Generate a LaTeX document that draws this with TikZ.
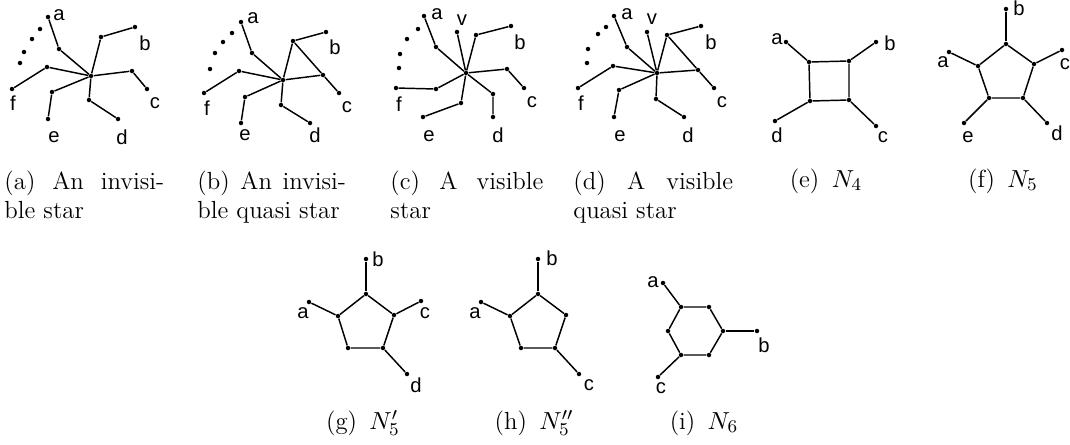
\documentclass[tikz,border=0pt]{standalone}
\usepackage{fontspec}
\usepackage{amsmath}
\newfontfamily\lblfont{Liberation Sans}
\usetikzlibrary{positioning}
\tikzset{
  vtx/.style={circle,fill=black,inner sep=0pt,minimum size=2pt},
  link/.style={draw=black,line width=0.65pt},
  lbl/.style={font=\lblfont\fontsize{9}{10}\selectfont,inner sep=0pt},
  subcap/.style={font=\fontsize{11}{13}\selectfont,inner sep=0pt,
                 align=left,anchor=north west},
  subcapc/.style={font=\fontsize{11}{13}\selectfont,inner sep=0pt}
}
\begin{document}
\begin{tikzpicture}[x=0.4444pt,y=-0.4444pt]
    \path[use as bounding box] (0,0) rectangle (1070,444);

    % (a) invisible star
    \node[vtx] (sa-c) at (91,76) {};
    \node[vtx] (sa-ai) at (59,49) {};  \node[vtx] (sa-al) at (48,17) {};
    \node[vtx] (sa-bi) at (101,37) {}; \node[vtx] (sa-bl) at (135,27) {};
    \node[vtx] (sa-ci) at (132,71) {}; \node[vtx] (sa-cl) at (147,89) {};
    \node[vtx] (sa-di) at (89,100) {}; \node[vtx] (sa-dl) at (118,119) {};
    \node[vtx] (sa-ei) at (52,92) {};  \node[vtx] (sa-el) at (48,119) {};
    \node[vtx] (sa-fi) at (47,67) {};  \node[vtx] (sa-fl) at (12,89) {};
    \draw[link] (sa-al) -- (sa-ai) -- (sa-c);
    \draw[link] (sa-bl) -- (sa-bi) -- (sa-c);
    \draw[link] (sa-cl) -- (sa-ci) -- (sa-c);
    \draw[link] (sa-dl) -- (sa-di) -- (sa-c);
    \draw[link] (sa-el) -- (sa-ei) -- (sa-c);
    \draw[link] (sa-fl) -- (sa-fi) -- (sa-c);
    \foreach \p in {(40,29),(32,39),(24,52),(20,63)}
      \fill \p circle (1pt);
    \node[lbl] (sa-la) at (59,15) {a};
    \node[lbl] (sa-lb) at (145,43) {b};
    \node[lbl] (sa-lc) at (155,103) {c};
    \node[lbl] (sa-ld) at (122,137) {d};
    \node[lbl] (sa-le) at (54,137) {e};
    \node[lbl] (sa-lf) at (13,103) {f};

    % (b) invisible quasi star
    \node[vtx] (sb-c) at (283,80) {};
    \node[vtx] (sb-ai) at (252,53) {};  \node[vtx] (sb-al) at (241,22) {};
    \node[vtx] (sb-bi) at (293,41) {};  \node[vtx] (sb-bl) at (326,32) {};
    \node[vtx] (sb-ci) at (323,75) {};  \node[vtx] (sb-cl) at (339,93) {};
    \node[vtx] (sb-di) at (281,105) {}; \node[vtx] (sb-dl) at (310,123) {};
    \node[vtx] (sb-ei) at (245,97) {};  \node[vtx] (sb-el) at (241,123) {};
    \node[vtx] (sb-fi) at (239,71) {};  \node[vtx] (sb-fl) at (204,93) {};
    \draw[link] (sb-al) -- (sb-ai) -- (sb-c);
    \draw[link] (sb-bl) -- (sb-bi) -- (sb-c);
    \draw[link] (sb-cl) -- (sb-ci) -- (sb-c);
    \draw[link] (sb-bi) -- (sb-ci);
    \draw[link] (sb-dl) -- (sb-di) -- (sb-c);
    \draw[link] (sb-el) -- (sb-ei) -- (sb-c);
    \draw[link] (sb-fl) -- (sb-fi) -- (sb-c);
    \foreach \p in {(232,33),(223,42),(215,53),(210,69)}
      \fill \p circle (1pt);
    \node[lbl] (sb-la) at (253,18) {a};
    \node[lbl] (sb-lb) at (335,47) {b};
    \node[lbl] (sb-lc) at (347,107) {c};
    \node[lbl] (sb-ld) at (315,135) {d};
    \node[lbl] (sb-le) at (245,135) {e};
    \node[lbl] (sb-lf) at (207,108) {f};

    % (c) visible star
    \node[vtx] (sc-c) at (466,73) {};
    \node[vtx] (sc-ai) at (436,47) {};  \node[vtx] (sc-al) at (424,16) {};
    \node[vtx] (sc-vl) at (457,32) {};
    \node[vtx] (sc-bi) at (476,35) {};  \node[vtx] (sc-bl) at (511,26) {};
    \node[vtx] (sc-ci) at (507,69) {};  \node[vtx] (sc-cl) at (524,88) {};
    \node[vtx] (sc-di) at (493,94) {};  \node[vtx] (sc-dl) at (493,117) {};
    \node[vtx] (sc-ei) at (461,103) {}; \node[vtx] (sc-el) at (423,117) {};
    \node[vtx] (sc-fi) at (436,89) {};  \node[vtx] (sc-fl) at (396,88) {};
    \draw[link] (sc-al) -- (sc-ai) -- (sc-c);
    \draw[link] (sc-vl) -- (sc-c);
    \draw[link] (sc-bl) -- (sc-bi) -- (sc-c);
    \draw[link] (sc-cl) -- (sc-ci) -- (sc-c);
    \draw[link] (sc-dl) -- (sc-di) -- (sc-c);
    \draw[link] (sc-el) -- (sc-ei) -- (sc-c);
    \draw[link] (sc-fl) -- (sc-fi) -- (sc-c);
    \foreach \p in {(418,29),(407,39),(400,54),(399,68)}
      \fill \p circle (1pt);
    \node[lbl] (sc-la) at (437,14) {a};
    \node[lbl] (sc-lv) at (462,20) {v};
    \node[lbl] (sc-lb) at (520,42) {b};
    \node[lbl] (sc-lc) at (532,102) {c};
    \node[lbl] (sc-ld) at (498,135) {d};
    \node[lbl] (sc-le) at (429,136) {e};
    \node[lbl] (sc-lf) at (399,104) {f};

    % (d) visible quasi star
    \node[vtx] (sd-c) at (657,73) {};
    \node[vtx] (sd-ai) at (627,47) {};  \node[vtx] (sd-al) at (614,16) {};
    \node[vtx] (sd-vl) at (647,32) {};
    \node[vtx] (sd-bi) at (667,35) {};  \node[vtx] (sd-bl) at (701,26) {};
    \node[vtx] (sd-ci) at (698,70) {};  \node[vtx] (sd-cl) at (714,88) {};
    \node[vtx] (sd-di) at (656,99) {};  \node[vtx] (sd-dl) at (684,117) {};
    \node[vtx] (sd-ei) at (619,90) {};  \node[vtx] (sd-el) at (614,117) {};
    \node[vtx] (sd-fi) at (613,66) {};  \node[vtx] (sd-fl) at (578,88) {};
    \draw[link] (sd-al) -- (sd-ai) -- (sd-c);
    \draw[link] (sd-vl) -- (sd-c);
    \draw[link] (sd-bl) -- (sd-bi) -- (sd-c);
    \draw[link] (sd-cl) -- (sd-ci) -- (sd-c);
    \draw[link] (sd-bi) -- (sd-ci);
    \draw[link] (sd-dl) -- (sd-di) -- (sd-c);
    \draw[link] (sd-el) -- (sd-ei) -- (sd-c);
    \draw[link] (sd-fl) -- (sd-fi) -- (sd-c);
    \foreach \p in {(606,27),(598,34),(588,49),(587,63)}
      \fill \p circle (1pt);
    \node[lbl] (sd-la) at (627,14) {a};
    \node[lbl] (sd-lv) at (652,19) {v};
    \node[lbl] (sd-lb) at (711,42) {b};
    \node[lbl] (sd-lc) at (722,102) {c};
    \node[lbl] (sd-ld) at (688,135) {d};
    \node[lbl] (sd-le) at (620,136) {e};
    \node[lbl] (sd-lf) at (581,103) {f};

    % (e) N4
    \node[vtx] (n4-tl) at (809,62) {};  \node[vtx] (n4-tr) at (849,61) {};
    \node[vtx] (n4-br) at (849,100) {}; \node[vtx] (n4-bl) at (810,101) {};
    \node[vtx] (n4-a) at (786,42) {};   \node[vtx] (n4-b) at (876,42) {};
    \node[vtx] (n4-c) at (876,126) {};  \node[vtx] (n4-d) at (775,121) {};
    \draw[link] (n4-tl) -- (n4-tr) -- (n4-br) -- (n4-bl) -- (n4-tl);
    \draw[link] (n4-a) -- (n4-tl);
    \draw[link] (n4-b) -- (n4-tr);
    \draw[link] (n4-c) -- (n4-br);
    \draw[link] (n4-d) -- (n4-bl);
    \node[lbl] (n4-la) at (777,39) {a};
    \node[lbl] (n4-lb) at (890,43) {b};
    \node[lbl] (n4-lc) at (883,137) {c};
    \node[lbl] (n4-ld) at (777,135) {d};

    % (f) N5
    \node[vtx] (n5-t) at (1006,44) {};  \node[vtx] (n5-l) at (978,66) {};
    \node[vtx] (n5-r) at (1034,64) {};  \node[vtx] (n5-bl) at (989,98) {};
    \node[vtx] (n5-br) at (1023,98) {};
    \node[vtx] (n5-a) at (949,52) {};   \node[vtx] (n5-b) at (1006,9) {};
    \node[vtx] (n5-c) at (1062,50) {};  \node[vtx] (n5-d) at (1047,123) {};
    \node[vtx] (n5-e) at (964,123) {};
    \draw[link] (n5-t) -- (n5-r) -- (n5-br) -- (n5-bl) -- (n5-l) -- (n5-t);
    \draw[link] (n5-a) -- (n5-l);
    \draw[link] (n5-b) -- (n5-t);
    \draw[link] (n5-c) -- (n5-r);
    \draw[link] (n5-d) -- (n5-br);
    \draw[link] (n5-e) -- (n5-bl);
    \node[lbl] (n5-la) at (943,62) {a};
    \node[lbl] (n5-lb) at (1019,8) {b};
    \node[lbl] (n5-lc) at (1065,64) {c};
    \node[lbl] (n5-ld) at (1057,133) {d};
    \node[lbl] (n5-le) at (968,137) {e};

    % (g) N5'
    \node[vtx] (g-t) at (366,294) {};  \node[vtx] (g-l) at (338,316) {};
    \node[vtx] (g-r) at (394,315) {};  \node[vtx] (g-bl) at (348,348) {};
    \node[vtx] (g-br) at (383,348) {};
    \node[vtx] (g-a) at (309,302) {};  \node[vtx] (g-b) at (366,259) {};
    \node[vtx] (g-c) at (421,301) {};  \node[vtx] (g-d) at (407,374) {};
    \draw[link] (g-t) -- (g-r) -- (g-br) -- (g-bl) -- (g-l) -- (g-t);
    \draw[link] (g-a) -- (g-l);
    \draw[link] (g-b) -- (g-t);
    \draw[link] (g-c) -- (g-r);
    \draw[link] (g-d) -- (g-br);
    \node[lbl] (g-la) at (303,313) {a};
    \node[lbl] (g-lb) at (378,259) {b};
    \node[lbl] (g-lc) at (425,313) {c};
    \node[lbl] (g-ld) at (416,385) {d};

    % (h) N5''
    \node[vtx] (h-t) at (538,294) {};  \node[vtx] (h-l) at (510,316) {};
    \node[vtx] (h-r) at (566,315) {};  \node[vtx] (h-bl) at (521,348) {};
    \node[vtx] (h-br) at (555,348) {};
    \node[vtx] (h-a) at (481,302) {};  \node[vtx] (h-b) at (538,259) {};
    \node[vtx] (h-c) at (579,374) {};
    \draw[link] (h-t) -- (h-r) -- (h-br) -- (h-bl) -- (h-l) -- (h-t);
    \draw[link] (h-a) -- (h-l);
    \draw[link] (h-b) -- (h-t);
    \draw[link] (h-c) -- (h-br);
    \node[lbl] (h-la) at (475,313) {a};
    \node[lbl] (h-lb) at (552,258) {b};
    \node[lbl] (h-lc) at (589,385) {c};

    % (i) N6
    \node[vtx] (n6-ul) at (681,307) {}; \node[vtx] (n6-ur) at (709,307) {};
    \node[vtx] (n6-r) at (723,331) {};  \node[vtx] (n6-lr) at (709,355) {};
    \node[vtx] (n6-ll) at (681,355) {}; \node[vtx] (n6-l) at (668,331) {};
    \node[vtx] (n6-a) at (663,283) {};  \node[vtx] (n6-b) at (757,331) {};
    \node[vtx] (n6-c) at (658,377) {};
    \draw[link] (n6-ul) -- (n6-ur) -- (n6-r) -- (n6-lr) -- (n6-ll) -- (n6-l) -- (n6-ul);
    \draw[link] (n6-a) -- (n6-ul);
    \draw[link] (n6-b) -- (n6-r);
    \draw[link] (n6-c) -- (n6-ll);
    \node[lbl] (n6-la) at (653,282) {a};
    \node[lbl] (n6-lb) at (764,345) {b};
    \node[lbl] (n6-lc) at (661,388) {c};

    % captions
    \node[subcap] (cap-a) at (4,170)
      {\makebox[71pt][s]{(a) An invisi-}\\ble star};
    \node[subcap] (cap-b) at (197,170)
      {\makebox[66pt][s]{(b) An invisi-}\\ble quasi star};
    \node[subcap] (cap-c) at (390,170)
      {\makebox[68pt][s]{(c) A visible}\\star};
    \node[subcap] (cap-d) at (573,170)
      {\makebox[71pt][s]{(d) A visible}\\quasi star};
    \node[subcapc] (cap-e) at (826,181) {(e)\enspace$N_4$};
    \node[subcapc] (cap-f) at (1003,181) {(f)\enspace$N_5$};
    \node[subcapc] (cap-g) at (363,423) {(g)\enspace$N_5'$};
    \node[subcapc] (cap-h) at (534,423) {(h)\enspace$N_5''$};
    \node[subcapc] (cap-i) at (704,423) {(i)\enspace$N_6$};
  \end{tikzpicture}
\end{document}
